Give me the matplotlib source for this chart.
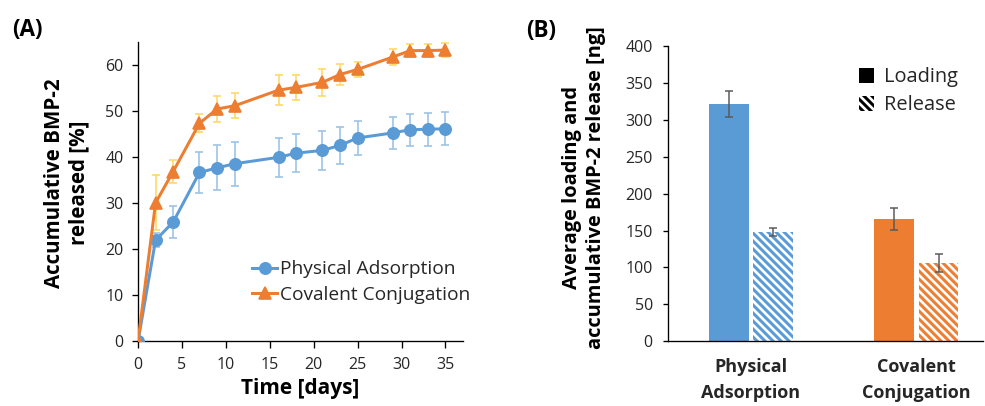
import matplotlib

matplotlib.use("Agg")
import matplotlib.pyplot as plt
from matplotlib.patches import Patch

plt.rcParams["font.family"] = ["Open Sans", "DejaVu Sans"]
plt.rcParams["hatch.linewidth"] = 1.8

# panel A: cumulative release over time
days = [0, 2, 4, 7, 9, 11, 16, 18, 21, 23, 25, 29, 31, 33, 35]
phys_mean = [0, 22.0, 25.9, 36.7, 37.7, 38.6, 40.0, 40.9, 41.5, 42.6, 44.2, 45.3, 46.0, 46.1, 46.2]
phys_err = [0, 1.5, 3.5, 4.5, 4.9, 4.8, 4.2, 4.1, 4.2, 4.0, 3.8, 3.5, 3.5, 3.6, 3.6]
cov_mean = [0, 30.1, 36.9, 47.4, 50.5, 51.2, 54.6, 55.2, 56.3, 58.0, 59.1, 61.8, 63.2, 63.2, 63.3]
cov_err = [0, 6.0, 2.5, 2.0, 2.8, 2.7, 3.2, 2.8, 3.0, 2.3, 1.7, 1.8, 1.4, 1.4, 1.5]

# panel B: loading vs released amount
groups = ["Physical\nAdsorption", "Covalent\nConjugation"]
loading = [321, 166]
loading_err = [17.5, 15]
release = [148, 106]
release_err = [6, 12]

BLUE = "#5B9BD5"
ORANGE = "#ED7D31"
BLUE_ERR = "#9DC3E6"
ORANGE_ERR = "#FFD966"
TXT = "#262626"
HATCH = "\\" * 5

W, H, DPI = 985, 406, 120
fig = plt.figure(figsize=(W / DPI, H / DPI), dpi=DPI)


def px_box(left, top, right, bottom):
    return [left / W, 1 - bottom / H, (right - left) / W, (bottom - top) / H]


# ---- (A)
ax = fig.add_axes(px_box(138, 42.3, 463, 341.3))
ax.errorbar(days, phys_mean, yerr=phys_err, fmt="none", ecolor=BLUE_ERR,
            elinewidth=1.0, capsize=2.2, capthick=1.0, zorder=2)
ax.errorbar(days, cov_mean, yerr=cov_err, fmt="none", ecolor=ORANGE_ERR,
            elinewidth=1.0, capsize=2.2, capthick=1.0, zorder=2)
ax.plot(days, phys_mean, color=BLUE, lw=1.8, marker="o", ms=6.8,
        label="Physical Adsorption", zorder=3)
ax.plot(days, cov_mean, color=ORANGE, lw=1.8, marker="^", ms=7.0,
        label="Covalent Conjugation", zorder=3)
ax.set_xlim(0, 37)
ax.set_ylim(0, 65)
ax.set_xticks(range(0, 36, 5))
ax.set_yticks(range(0, 61, 10))
for s in ("top", "right"):
    ax.spines[s].set_visible(False)
for s in ("left", "bottom"):
    ax.spines[s].set_linewidth(0.8)
ax.tick_params(axis="both", direction="out", width=0.8, labelsize=9.6,
               labelcolor=TXT)
ax.tick_params(axis="y", length=3.6, pad=5)
ax.tick_params(axis="x", length=4.2, pad=5)
ax.set_xlabel("Time [days]", fontsize=12.5, fontweight="bold", labelpad=3)
ax.set_ylabel("Accumulative BMP-2\nreleased [%]", fontsize=12.3,
              fontweight="bold", linespacing=1.25)
ax.yaxis.set_label_coords(-0.148, 0.53)
ax.legend(loc="center left", bbox_to_anchor=(0.352, 0.198), frameon=False,
          fontsize=11.5, borderpad=0, borderaxespad=0, handlelength=1.3,
          handletextpad=0.15, labelspacing=0.4, labelcolor=TXT)

# ---- (B)
bx = fig.add_axes(px_box(668.3, 46, 983, 341.3))
xs = list(range(len(groups)))
bw, off = 0.24, 0.134
bx.bar([x - off for x in xs], loading, width=bw, color=[BLUE, ORANGE],
       linewidth=0, zorder=2)
bx.bar([x + off for x in xs], release, width=bw, color="white",
       edgecolor=[BLUE, ORANGE], hatch=HATCH, linewidth=0, zorder=2)
bx.errorbar([x - off for x in xs], loading, yerr=loading_err, fmt="none",
            ecolor="#595959", elinewidth=0.9, capsize=2.2, capthick=0.9, zorder=3)
bx.errorbar([x + off for x in xs], release, yerr=release_err, fmt="none",
            ecolor="#595959", elinewidth=0.9, capsize=2.2, capthick=0.9, zorder=3)
bx.set_xlim(-0.5, 1.403)
bx.set_ylim(0, 400)
bx.set_yticks(range(0, 401, 50))
bx.set_xticks(xs)
bx.set_xticklabels(groups, fontsize=10.8, fontweight="bold", color=TXT,
                   linespacing=1.55)
for s in ("top", "right"):
    bx.spines[s].set_visible(False)
for s in ("left", "bottom"):
    bx.spines[s].set_linewidth(0.8)
bx.tick_params(axis="y", direction="out", length=3.3, width=0.8, pad=6,
               labelsize=9.6, labelcolor=TXT)
bx.tick_params(axis="x", length=0, pad=10)
bx.set_ylabel("Average loading and\naccumulative BMP-2 release [ng]",
              fontsize=12, fontweight="bold", linespacing=1.25)
bx.yaxis.set_label_coords(-0.198, 0.52)
handles = [Patch(facecolor="black", edgecolor="black", linewidth=0),
           Patch(facecolor="white", edgecolor="black", hatch=HATCH, linewidth=0)]
bx.legend(handles, ["Loading", "Release"], loc="center left",
          bbox_to_anchor=(0.606, 0.846), frameon=False, fontsize=12,
          borderpad=0, borderaxespad=0, handlelength=0.75, handleheight=0.75,
          handletextpad=0.5, labelspacing=0.4, labelcolor=TXT)

fig.text(12 / W, 1 - 30 / H, "(A)", fontsize=13.5, fontweight="bold",
         va="center", ha="left")
fig.text(526 / W, 1 - 31 / H, "(B)", fontsize=13.5, fontweight="bold",
         va="center", ha="left")

fig.savefig("out.png", dpi=DPI)
